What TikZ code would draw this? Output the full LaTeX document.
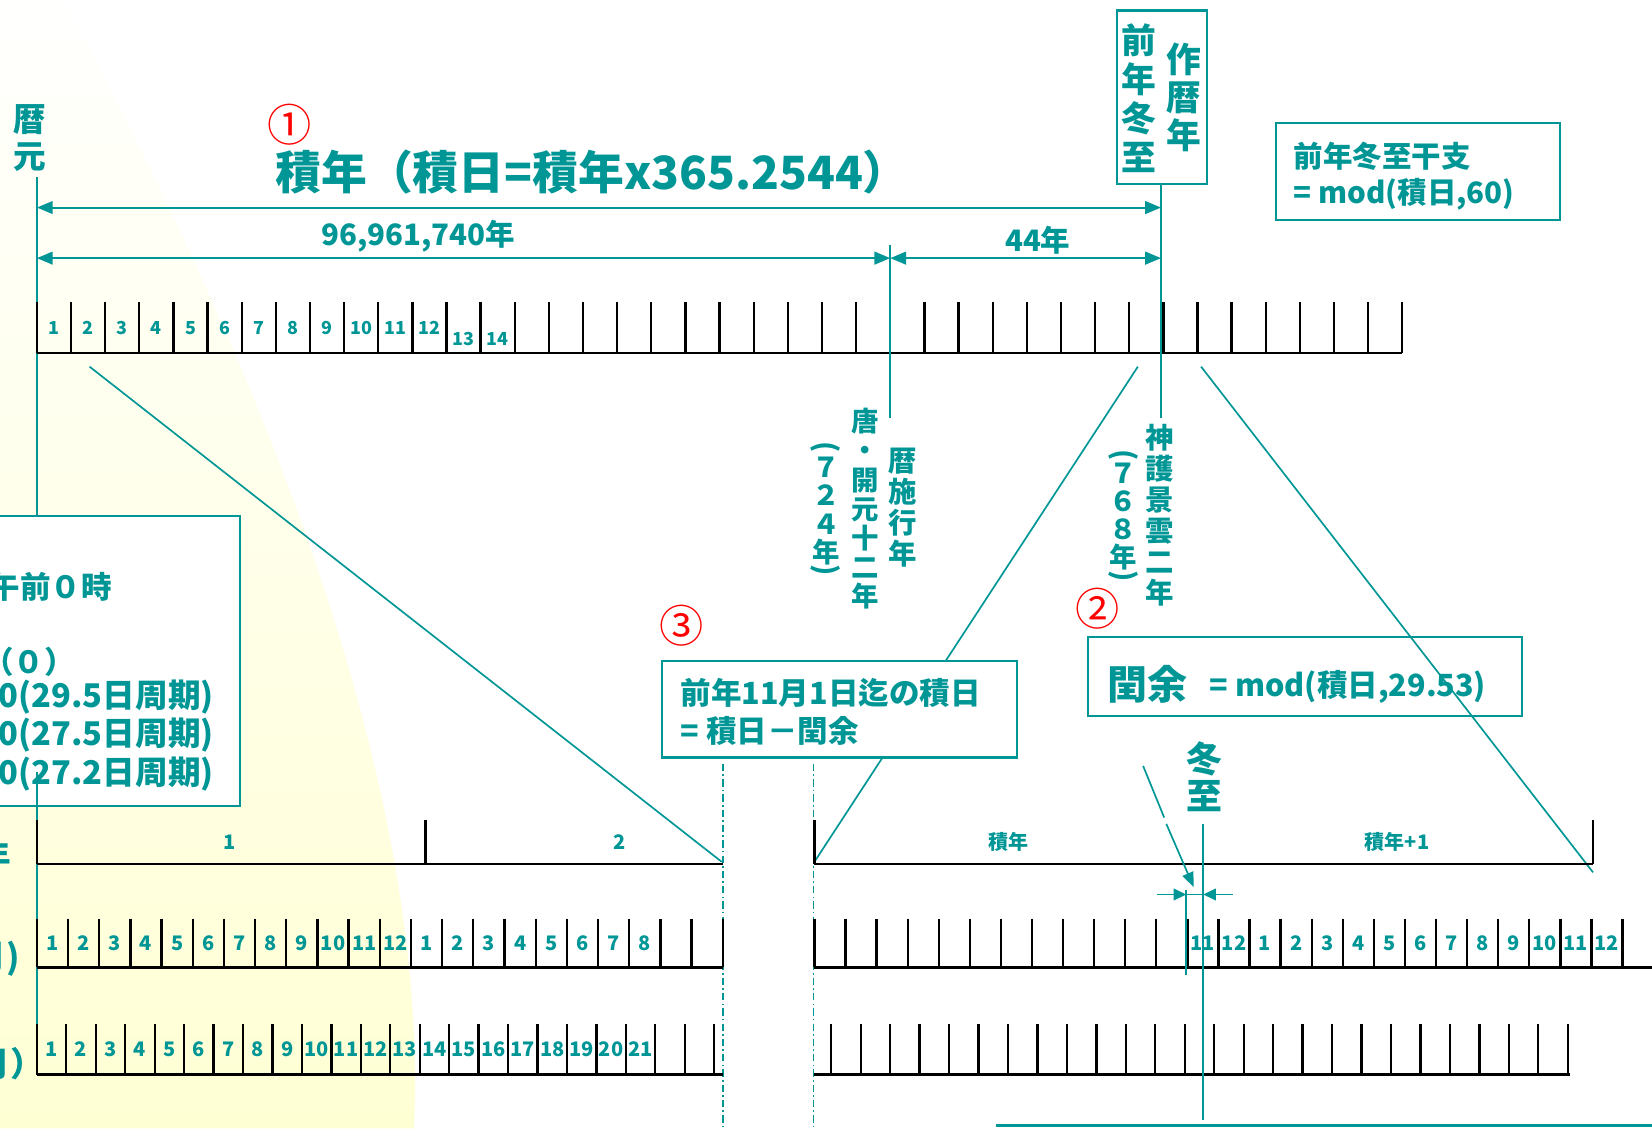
\documentclass[tikz,border=0pt]{standalone}
\usepackage{fontspec}
\setmainfont{Noto Sans CJK JP}
\usetikzlibrary{arrows.meta}
\definecolor{tl}{RGB}{0,150,150}
\definecolor{ylw}{RGB}{255,255,212}
\definecolor{ymd}{RGB}{255,255,238}
\definecolor{ylt}{RGB}{255,255,254}
\newcommand{\fz}[1]{\fontsize{#1}{#1}\selectfont\bfseries}
\newcommand{\fzs}[2]{\fontsize{#1}{#2}\selectfont\bfseries}
\tikzset{
  T/.style={text=tl, inner sep=0pt, outer sep=0pt},
  box/.style={draw=tl, line width=2pt, fill=white, inner sep=0pt},
  tln/.style={draw=tl, line width=1.6pt},
  tk/.style={draw=black, line width=2.2pt},
  bs/.style={draw=black, line width=2.6pt},
  dim/.style={draw=tl, line width=2pt, {Triangle[length=15pt,width=12pt]}-{Triangle[length=15pt,width=12pt]}},
  dd/.style={draw=tl, line width=1.5pt, dash pattern=on 7pt off 3pt on 1.5pt off 3pt},
  circ/.style={text=red, inner sep=0pt, font=\fontsize{42}{42}\selectfont},
  lab/.style={T, font=\fz{17}},
  lab2/.style={T, font=\fz{19}}
}
\begin{document}
\begin{tikzpicture}[x=1pt,y=-1pt]
\useasboundingbox (0,0) rectangle (1568,1071);
% background beam
\shade[top color=ylt, middle color=ymd, bottom color=ylw] (0,0) -- (60,0) .. controls (200,260) and (410,700) .. (393,1071) -- (0,1071) -- cycle;

% origin line
\node[T, font=\fzs{31}{35}, align=center] (remei) at (28,131) {暦\\元};
\coordinate (reTop) at (35,168);
\coordinate (reBot) at (35,1020);
\draw[tln] (reTop) -- (reBot);

% diagonal connectors
\coordinate (d1a) at (85,348);   \coordinate (d1b) at (685,818);
\coordinate (d2a) at (1080,348); \coordinate (d2b) at (773,818);
\coordinate (d3a) at (1140,348); \coordinate (d3b) at (1512,828);
\draw[tln] (d1a) -- (d1b);
\draw[tln] (d2a) -- (d2b);

% boxes
\node[box, minimum width=337pt, minimum height=92pt] (box3) at (796.5,673) {};
\node[box, minimum width=240pt, minimum height=275pt] (boxC) at (108,627.5) {};
\coordinate (reMid) at (35,733);
\draw[tln] (reMid) -- (reMid |- boxC.south);
\node[box, minimum width=412pt, minimum height=75pt] (box2) at (1239,642.5) {};
\draw[tln] (d3a) -- (d3b);
\node[box, minimum width=86pt, minimum height=165pt] (boxA) at (1103,92.5) {};
\node[box, minimum width=270pt, minimum height=92pt] (boxB) at (1346,163) {};

% dash-dot lines
\coordinate (ddA1) at (686,725); \coordinate (ddA2) at (686,1071);
\coordinate (ddB1) at (772,725); \coordinate (ddB2) at (772,1071);
\draw[dd] (ddA1) -- (ddA2);
\draw[dd] (ddB1) -- (ddB2);

% ruler 1
\foreach \k in {0,...,40} \draw[tk] ({35+32.4*\k},287) -- ({35+32.4*\k},335);
\draw[bs] (35,335) -- (1331,335);
\foreach \k in {1,...,12} \node[lab] (ra\k) at ({35+32.4*(\k-0.5)},311) {\k};
\foreach \k in {13,14} \node[lab] (ra\k) at ({35+32.4*(\k-0.5)},322) {\k};

% ruler 3 (years)
\draw[bs] (35,820) -- (686,820);
\draw[bs] (773,820) -- (1512,820);
\foreach \x in {35,404,773,1512} \draw[tk] (\x,778) -- (\x,820);
\node[lab2] (y1) at (218,799) {1};
\node[lab2] (y2) at (588,799) {2};
\node[lab2] (y3) at (957,799) {積年};
\node[lab2] (y4) at (1326,799) {積年+1};

% ruler 4 (months)
\foreach \k in {0,...,22} \draw[tk] ({35+29.59*\k},872) -- ++(0,46);
\draw[bs] (35,918) -- (686,918);
\foreach \k in {0,...,26} \draw[tk] ({773+29.5*\k},872) -- ++(0,46);
\draw[bs] (773,918) -- (1568,918);
\foreach \l [count=\i from 0] in {1,2,3,4,5,6,7,8,9,10,11,12,1,2,3,4,5,6,7,8}
  \node[lab2] (mb\i) at ({35+29.59*(\i+0.5)},895) {\l};
\foreach \l [count=\i from 12] in {11,12,1,2,3,4,5,6,7,8,9,10,11,12}
  \node[lab2] (mc\i) at ({773+29.5*(\i+0.5)},895) {\l};

% ruler 5
\foreach \k in {0,...,23} \draw[tk] ({35+27.95*\k},972) -- ++(0,48);
\draw[bs] (35,1020) -- (686,1020);
\foreach \k in {0,...,25} \draw[tk] ({789+27.96*\k},972) -- ++(0,48);
\draw[bs] (773,1020) -- (1490,1020);
\foreach \k in {1,...,21} \node[lab2] (nb\k) at ({35+27.95*(\k-0.5)},996) {\k};

% verticals from ruler 1
\coordinate (v1a) at (845,233); \coordinate (v1b) at (845,397);
\draw[tln] (v1a) -- (v1b);
\coordinate (v2b) at (1102,397);
\draw[tln] (boxA.south -| v2b) -- (v2b);

% dimension arrows
\coordinate (a1L) at (35,197); \coordinate (a1R) at (1102,197);
\draw[dim] (a1L) -- (a1R);
\coordinate (a2L) at (35,245); \coordinate (a2M) at (845,245); \coordinate (a2R) at (1102,245);
\draw[dim] (a2L) -- (a2M);
\draw[dim] (a2M) -- (a2R);

% title and labels
\node[circ] (c1) at (275,118) {①};
\node[T, font=\fz{43.5}] (title) at (562,163) {積年（積日=積年x365.2544）};
\node[T, font=\fz{28}] (l1) at (397,224) {96,961,740年};
\node[T, font=\fz{28}] (l2) at (985,228) {44年};

% box A text
\node[T, font=\fzs{33}{37}, align=center] (bA1) at (1081,93) {前\\年\\冬\\至};
\node[T, font=\fzs{33}{36}, align=center] (bA2) at (1124,92) {作\\暦\\年};

% box B text
\node[T, font=\fz{28}, anchor=west] (bB1) at (1228,148) {前年冬至干支};
\node[T, font=\fz{28}, anchor=west] (bB2) at (1228,184) {= mod(積日,60)};

% vertical labels
\node[T, font=\fzs{26}{27.7}, align=center] (tang) at (821,483) {唐\\・\\開\\元\\十\\二\\年};
\node[T, font=\fzs{27}{29.3}, align=center] (shiko) at (857,482) {暦\\施\\行\\年};
\node[T, font=\fzs{26}{26.7}, align=center] (y724) at (784,485) {７\\２\\４\\年};
\node[T, font=\fz{27}, rotate=-90] (p724a) at (784,424) {(};
\node[T, font=\fz{27}, rotate=-90] (p724b) at (784,541) {)};
\node[T, font=\fzs{27}{29.6}, align=center] (jingo) at (1101,489) {神\\護\\景\\雲\\二\\年};
\node[T, font=\fzs{26}{26.7}, align=center] (y768) at (1066,490) {７\\６\\８\\年};
\node[T, font=\fz{27}, rotate=-90] (p768a) at (1066,432) {(};
\node[T, font=\fz{27}, rotate=-90] (p768b) at (1066,547) {)};

% circled numbers and boxes 2,3
\node[circ] (c2) at (1042,578) {②};
\node[circ] (c3) at (647,594) {③};
\node[T, font=\fz{29}, anchor=west] (b3a) at (646,658) {前年11月1日迄の積日};
\node[T, font=\fz{29}, anchor=west] (b3b) at (646,694) {= 積日－閏余};
\node[T, font=\fz{38}, anchor=west] (b2a) at (1051,650) {閏余};
\node[T, font=\fz{29}, anchor=west] (b2b) at (1148,652) {= mod(積日,29.53)};

% box C text
\node[T, font=\fz{29}, anchor=east] (cA) at (106,557) {午前０時};
\node[T, font=\fz{29}, anchor=east] (cB) at (71,628) {子（０）};
\node[T, font=\fz{31}, anchor=east] (cC) at (203,662) {=0(29.5日周期)};
\node[T, font=\fz{31}, anchor=east] (cD) at (203,698) {=0(27.5日周期)};
\node[T, font=\fz{31}, anchor=east] (cE) at (203,735) {=0(27.2日周期)};

% left edge row labels
\node[T, font=\fz{30}, anchor=east] (rowY) at (11,812) {年};
\node[T, font=\fz{32}, anchor=east] (rowM1) at (19,910) {月)};
\node[T, font=\fz{32}, anchor=east] (rowM2) at (42,1010) {月）};

% winter solstice
\node[T, font=\fzs{34}{35}, align=center] (toji) at (1143,737) {冬\\至};
\coordinate (tjTop) at (1142,782); \coordinate (tjBot) at (1142,1063);
\draw[tln] (tjTop) -- (tjBot);
\coordinate (wa1) at (1085,727); \coordinate (wa2) at (1105,776);
\coordinate (wa3) at (1107,782); \coordinate (wa4) at (1133,842);
\draw[tln] (wa1) -- (wa2);
\draw[tln, -{Triangle[length=14pt,width=11pt]}] (wa3) -- (wa4);
\coordinate (m11a) at (1126,845); \coordinate (m11b) at (1126,925);
\draw[tln] (m11a) -- (m11b);
\coordinate (dl) at (1098,849); \coordinate (dr) at (1170,849);
\draw[tln, -{Triangle[length=12pt,width=11pt]}] (dl) -- (dl -| m11a);
\draw[tln] (dl -| m11a) -- (dl -| tjTop);
\draw[tln, -{Triangle[length=12pt,width=11pt]}] (dr) -- (dr -| tjTop);

% bottom line
\coordinate (bl1) at (945,1068); \coordinate (bl2) at (1568,1068);
\draw[draw=tl, line width=2.6pt] (bl1) -- (bl2);
\end{tikzpicture}
\end{document}
